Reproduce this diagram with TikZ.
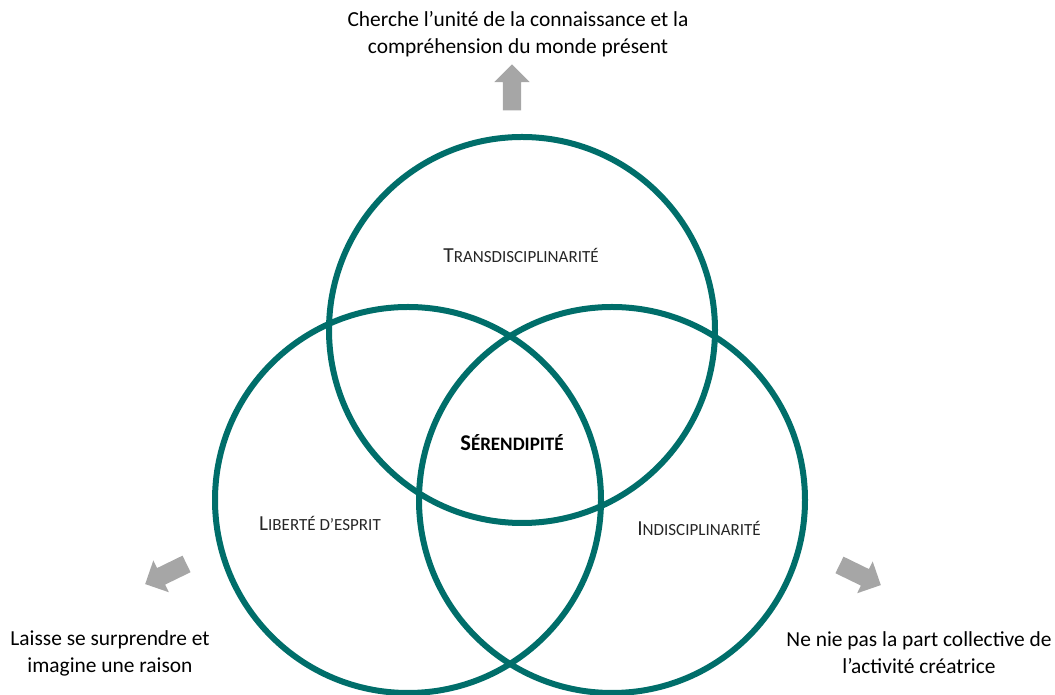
\documentclass[tikz,border=0pt]{standalone}
\usepackage{fontspec}
\setmainfont{Carlito}
\usepackage{xcolor}
\usepackage{tikz}
\usetikzlibrary{shapes.arrows, positioning}
\definecolor{vennteal}{RGB}{0,110,106}
\definecolor{arrowgray}{RGB}{166,166,166}
\newcommand{\fksc}[3][17]{#2{\fontsize{#1}{18}\selectfont #3}}

\begin{document}
\begin{tikzpicture}[x=1pt, y=1pt,
  ring/.style={draw=vennteal, line width=6pt},
  grayarrow/.style={single arrow, fill=arrowgray, draw=none, minimum height=46pt, inner sep=0pt, inner ysep=9pt, single arrow head extend=8.5pt, single arrow head indent=0pt},
  lbl/.style={font=\fontsize{21.4}{27}\selectfont, align=center, text=black},
  setname/.style={font=\fontsize{21.4}{24}\selectfont, text=black!85},
]
  \useasboundingbox (0,0) rectangle (1055,695);

  % Circles
  \node[ring, circle, minimum size=386pt] (trans) at (522,365) {};
  \node[ring, circle, minimum size=386pt] (liberte) at (408,195) {};
  \node[ring, circle, minimum size=386pt] (indisc) at (612,195) {};

  % Circle names
  \node[setname] (transname) at (521,440) {\fksc{T}{RANSDISCIPLINARITÉ}};
  \node[setname] (libname) at (320,172) {\fksc{L}{IBERTÉ D’ESPRIT}};
  \node[setname] (indname) at (699,167) {\fksc{I}{NDISCIPLINARITÉ}};
  \node[setname, font=\fontsize{22.5}{24}\selectfont\bfseries, text=black] (seren) at (512,252) {\fksc[19]{S}{ÉRENDIPITÉ}};

  % Gray arrows
  \node[grayarrow, rotate=90] (uparrow) at (512,603) {};
  \node[grayarrow, rotate=206] (leftarrow) at (170,123) {};
  \node[grayarrow, rotate=-26] (rightarrow) at (856,122) {};

  % Texts
  \node[lbl] (toptext) at (518,661) {Cherche l’unité de la connaissance et la\\compréhension du monde présent};
  \node[lbl] (lefttext) at (110,42) {Laisse se surprendre et\\imagine une raison};
  \node[lbl] (righttext) at (919,42) {Ne nie pas la part collective de\\l’activité créatrice};
\end{tikzpicture}
\end{document}
